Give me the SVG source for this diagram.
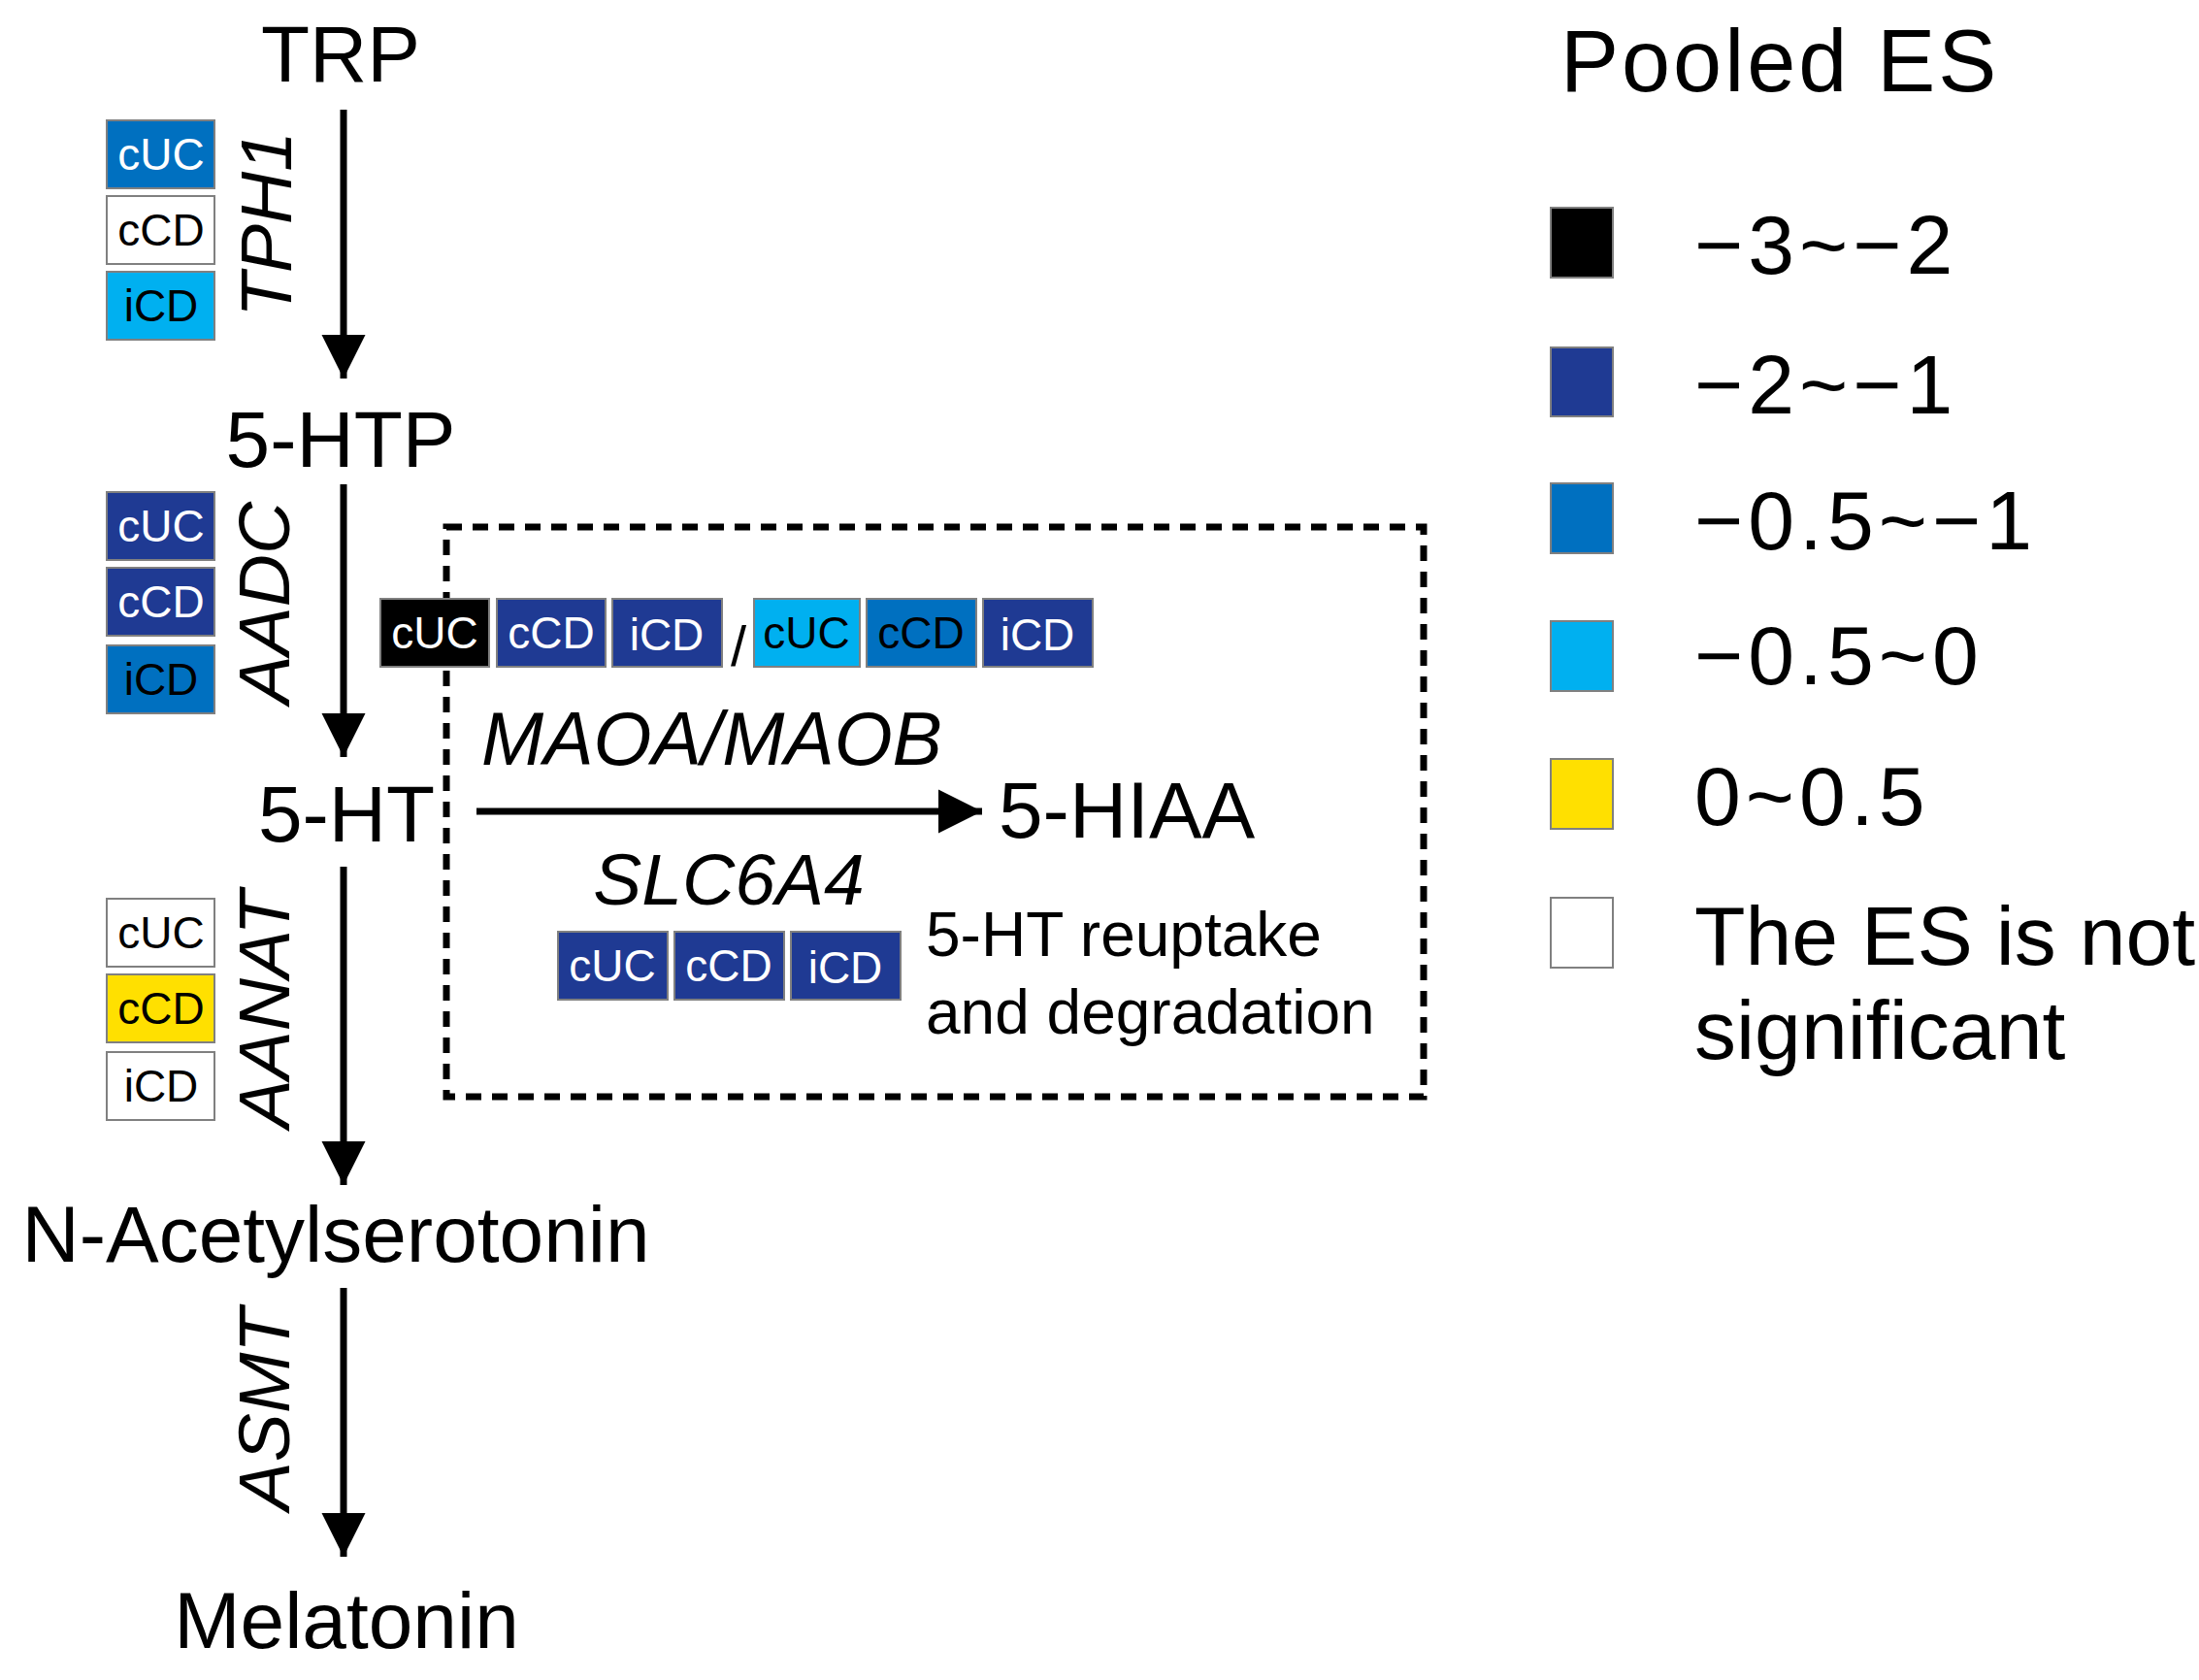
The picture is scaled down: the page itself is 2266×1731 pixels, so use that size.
<svg xmlns="http://www.w3.org/2000/svg" width="2266" height="1731" viewBox="0 0 2266 1731">
<defs>
<marker id="ah" viewBox="0 0 10 10" refX="10" refY="5" markerWidth="6.5" markerHeight="6.5" markerUnits="strokeWidth" orient="auto"><path d="M0,0 L10,5 L0,10 z" fill="#000"/></marker>
<style>
text{font-family:"Liberation Sans",Arial,sans-serif;fill:#000}
.m{font-size:82px;text-anchor:middle}
.g{font-size:75px;font-style:italic}
.b{font-size:46px;text-anchor:middle}
.bw{fill:#fff}
.k{fill:#000}.n{fill:#1f3a93}.mb{fill:#0070c0}.lb{fill:#00b0f0}.y{fill:#ffe000}.w{fill:#fff}
.bx{stroke:#808080;stroke-width:2}
.lg{font-size:86px}
line.c{stroke:#000;stroke-width:7}
</style>
</defs>
<rect x="0" y="0" width="2266" height="1731" fill="#fff"/>
<g id="connectors">
<line class="c" x1="354" y1="113" x2="354" y2="390" marker-end="url(#ah)"/>
<line class="c" x1="354" y1="499" x2="354" y2="780" marker-end="url(#ah)"/>
<line class="c" x1="354" y1="893" x2="354" y2="1221" marker-end="url(#ah)"/>
<line class="c" x1="354" y1="1327" x2="354" y2="1604" marker-end="url(#ah)"/>
<line class="c" x1="491" y1="836" x2="1012" y2="836" marker-end="url(#ah)"/>
</g>
<g id="dashbox"><rect x="460" y="543" width="1007" height="587" fill="none" stroke="#000" stroke-width="7" stroke-dasharray="16,11"/></g>
<g id="TRP"><text class="m" x="351" y="84">TRP</text></g>
<g id="HTP"><text class="m" x="351" y="481">5-HTP</text></g>
<g id="HT"><text class="m" x="357" y="867">5-HT</text></g>
<g id="NAS"><text class="m" x="346" y="1300">N-Acetylserotonin</text></g>
<g id="MEL"><text class="m" x="357" y="1698">Melatonin</text></g>
<g id="HIAA"><text x="1029" y="863" font-size="82">5-HIAA</text></g>
<g id="TPH1">
<text class="g" transform="translate(300,231) rotate(-90)" text-anchor="middle">TPH1</text>
<rect class="bx mb" x="110" y="124" width="111" height="70"/><text class="b bw" x="166" y="175">cUC</text>
<rect class="bx w" x="110" y="202" width="111" height="70"/><text class="b" x="166" y="253">cCD</text>
<rect class="bx lb" x="110" y="280" width="111" height="70"/><text class="b" x="166" y="331">iCD</text>
</g>
<g id="AADC">
<text class="g" transform="translate(298,621) rotate(-90)" text-anchor="middle">AADC</text>
<rect class="bx n" x="110" y="507" width="111" height="70"/><text class="b bw" x="166" y="558">cUC</text>
<rect class="bx n" x="110" y="585" width="111" height="70"/><text class="b bw" x="166" y="636">cCD</text>
<rect class="bx mb" x="110" y="665" width="111" height="70"/><text class="b" x="166" y="716">iCD</text>
</g>
<g id="AANAT">
<text class="g" transform="translate(298,1040) rotate(-90)" text-anchor="middle">AANAT</text>
<rect class="bx w" x="110" y="926" width="111" height="70"/><text class="b" x="166" y="977">cUC</text>
<rect class="bx y" x="110" y="1004" width="111" height="70"/><text class="b" x="166" y="1055">cCD</text>
<rect class="bx w" x="110" y="1084" width="111" height="70"/><text class="b" x="166" y="1135">iCD</text>
</g>
<g id="ASMT"><text class="g" transform="translate(298,1452) rotate(-90)" text-anchor="middle">ASMT</text></g>
<g id="MAO">
<rect class="bx k" x="392" y="617" width="112" height="70"/><text class="b bw" x="448" y="668">cUC</text>
<rect class="bx n" x="512" y="617" width="112" height="70"/><text class="b bw" x="568" y="668">cCD</text>
<rect class="bx n" x="631" y="617" width="113" height="70"/><text class="b bw" x="687" y="670">iCD</text>
<text x="761" y="686" font-size="58" text-anchor="middle">/</text>
<rect class="bx lb" x="777" y="617" width="109" height="70"/><text class="b" x="831" y="668">cUC</text>
<rect class="bx mb" x="893" y="617" width="113" height="70"/><text class="b" x="949" y="668">cCD</text>
<rect class="bx n" x="1013" y="617" width="113" height="70"/><text class="b bw" x="1069" y="670">iCD</text>
<text class="g" x="496" y="788" font-size="76" style="font-size:77px">MAOA/MAOB</text>
</g>
<g id="SLC6A4">
<text class="g" x="751" y="932" text-anchor="middle">SLC6A4</text>
<rect class="bx n" x="575" y="960" width="113" height="70"/><text class="b bw" x="631" y="1011">cUC</text>
<rect class="bx n" x="695" y="960" width="113" height="70"/><text class="b bw" x="751" y="1011">cCD</text>
<rect class="bx n" x="815" y="960" width="113" height="70"/><text class="b bw" x="871" y="1013">iCD</text>
<text x="954" y="985" font-size="64">5-HT reuptake</text>
<text x="954" y="1065" font-size="64">and degradation</text>
</g>
<g id="legend">
<text x="1608" y="94" font-size="90" letter-spacing="3">Pooled ES</text>
<rect class="bx k" x="1598" y="214" width="64" height="72"/><text class="lg" x="1746" y="282" letter-spacing="5">−3~−2</text>
<rect class="bx n" x="1598" y="358" width="64" height="71"/><text class="lg" x="1746" y="426" letter-spacing="5">−2~−1</text>
<rect class="bx mb" x="1598" y="498" width="64" height="72"/><text class="lg" x="1746" y="566" letter-spacing="5">−0.5~−1</text>
<rect class="bx lb" x="1598" y="640" width="64" height="72"/><text class="lg" x="1746" y="705" letter-spacing="5">−0.5~0</text>
<rect class="bx y" x="1598" y="782" width="64" height="72"/><text class="lg" x="1746" y="850" letter-spacing="5">0~0.5</text>
<rect class="bx w" x="1598" y="925" width="64" height="72"/><text class="lg" x="1746" y="994">The ES is not</text>
<text class="lg" x="1746" y="1091">significant</text>
</g>
</svg>
